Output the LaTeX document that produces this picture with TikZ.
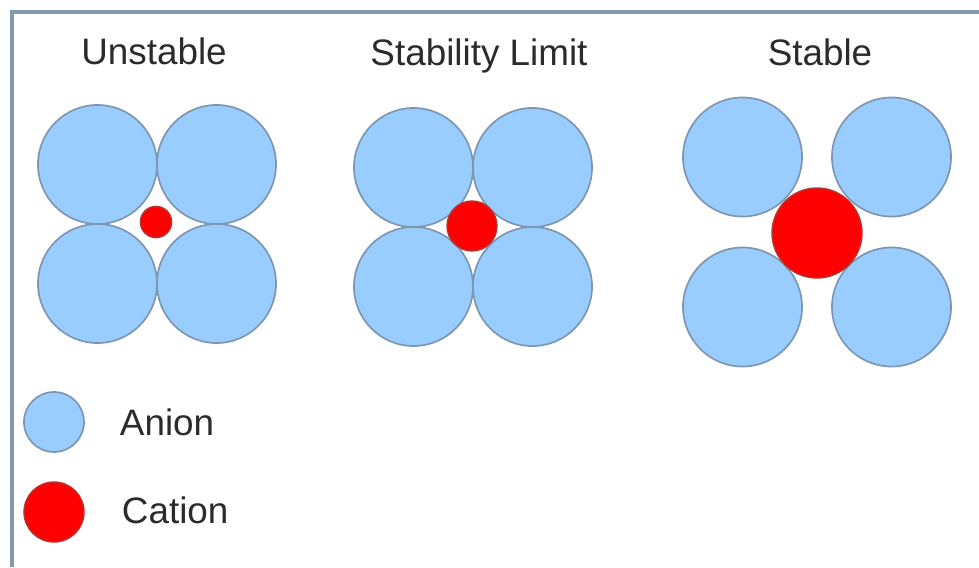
\documentclass[tikz,border=0pt]{standalone}
\usepackage{fontspec}
\setmainfont{Liberation Sans}
\usepackage{tikz}

\definecolor{anionfill}{HTML}{99CCFF}
\definecolor{anionline}{HTML}{7E97B0}
\definecolor{cationline}{HTML}{B83333}
\definecolor{framecol}{HTML}{8499AE}
\definecolor{textcol}{HTML}{2B2B2B}

\tikzset{
	anion/.style={circle, inner sep=0pt, minimum size=#1, fill=anionfill, draw=anionline, line width=1.2pt},
	cation/.style={circle, inner sep=0pt, minimum size=#1, fill=red, draw=cationline, line width=1pt},
	label text/.style={text=textcol, font=\fontsize{26.2}{30}\selectfont}
}

\begin{document}
\begin{tikzpicture}[x=0.025cm, y=-0.025cm]
	\useasboundingbox (0,0) rectangle (979,567);
	\draw[framecol, line width=3pt] (12,567) -- (12,12) -- (979,12);
	% titles
	\node[label text, anchor=base] (tunstable) at (154,64) {Unstable};
	\node[label text, anchor=base] (tlimit) at (479,65) {Stability Limit};
	\node[label text, anchor=base] (tstable) at (820,65) {Stable};
	% unstable: anions touch, cation too small
	\foreach \dx/\dy [count=\i] in {-1/-1,1/-1,-1/1,1/1} {\node[anion=2.975cm] (u\i) at (157+59.5*\dx,224+59.5*\dy) {};}
	\node[cation=0.78cm] (ucat) at (156,222) {};
	% stability limit: anions touch cation
	\foreach \dx/\dy [count=\i] in {-1/-1,1/-1,-1/1,1/1} {\node[anion=2.975cm] (l\i) at (473+59.5*\dx,227+59.5*\dy) {};}
	\node[cation=1.25cm] (lcat) at (472,226) {};
	% stable: cation pushes anions apart
	\foreach \dx/\dy [count=\i] in {-1/-1,1/-1,-1/1,1/1} {\node[anion=2.975cm] (s\i) at (817+74.5*\dx,232+75*\dy) {};}
	\node[cation=2.25cm] (scat) at (817,233) {};
	% legend
	\node[anion=1.5cm] (kanion) at (54,422) {};
	\node[label text, anchor=base west] (kanionlabel) at (115,435) {Anion};
	\node[cation=1.5cm] (kcation) at (54,512) {};
	\node[label text, anchor=base west] (kcationlabel) at (117,523) {Cation};
\end{tikzpicture}
\end{document}
